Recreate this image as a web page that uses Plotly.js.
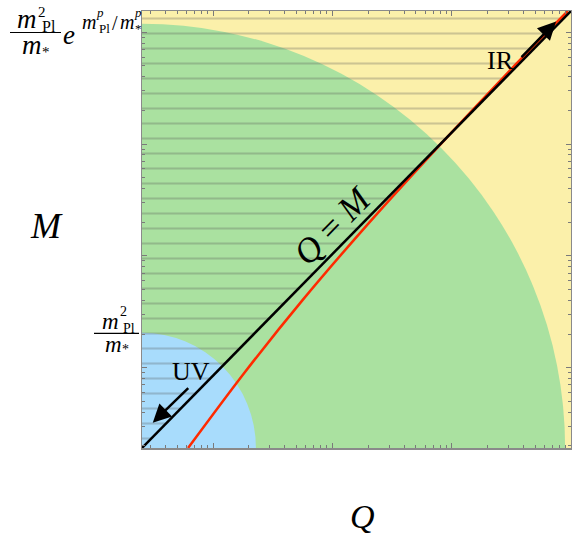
<!DOCTYPE html>
<html>
<head>
<meta charset="utf-8">
<script src="https://cdn.plot.ly/plotly-3.0.1.min.js"></script>
<style>
  html, body { margin: 0; padding: 0; background: #fff; }
  #chart { width: 572px; height: 536px; }
</style>
</head>
<body>
<div id="chart"></div>
<script>
// frame extent, log10 of Q (x) and M (y)
const qRangeLog = [0.405, 4.0]
const mRangeLog = [0.281, 4.191]

// Q = M line, corner to corner
const diagQ = [2.54, 10000]
const diagM = [1.91, 15520]

// red curve
const curveQ = [6.18, 18.0, 56.5, 202.8, 784, 3112, 9390]
const curveM = [1.91, 8.78, 40.4, 197.4, 965, 4624, 15520]

// quarter discs around the lower-left corner (edge on each axis)
const regionNames = ["UV", "bulk"]
const regionEdgeQ = [22.9, 8930]
const regionEdgeM = [20.5, 11940]
const regionColors = ["#a8dcfc", "#aae1a0"]

// axis ticks (no labels)
const qMajor = [10, 100, 1000, 10000]
const mMajor = [10, 100, 1000, 10000]

const lg = Math.log10
const minorTicks = (lo, hi) => {
  const out = []
  for (let d = 1; d <= 1000; d *= 10) {
    for (let k = 2; k <= 9; k++) {
      const v = k * d
      if (v > lo && v < hi) out.push(v)
    }
  }
  return out
}
const qMinor = minorTicks(diagQ[0], diagQ[1])
const mMinor = minorTicks(diagM[0], diagM[1])

// plot box in pixels, to place the free text
const L = 142, T = 11, W = 429, H = 437
const px = (x) => (x - L) / W
const py = (y) => (T + H - y) / H

const serif = "Liberation Serif, Times New Roman, serif"

const traces = [
  {
    // hatched M > Q part
    x: [diagQ[0], diagQ[0], diagQ[1], diagQ[0]],
    y: [diagM[0], diagM[1], diagM[1], diagM[0]],
    mode: "lines",
    line: { width: 0 },
    fill: "toself",
    fillcolor: "rgba(0,0,0,0)",
    fillpattern: { shape: "-", size: 15, solidity: 0.14, fgcolor: "#505050", fgopacity: 0.28, bgcolor: "rgba(0,0,0,0)" },
    hoverinfo: "skip",
  },
  {
    x: curveQ,
    y: curveM,
    mode: "lines",
    line: { color: "#ff2a00", width: 2.5, shape: "spline", smoothing: 0.8 },
  },
  {
    x: diagQ,
    y: diagM,
    mode: "lines",
    line: { color: "#000000", width: 2.5 },
  },
]

// shapes on log axes take data values
const shapes = []
for (let i = regionNames.length - 1; i >= 0; i--) {
  const rq = lg(regionEdgeQ[i]) - qRangeLog[0]
  const rm = lg(regionEdgeM[i]) - mRangeLog[0]
  shapes.push({
    type: "circle", xref: "x", yref: "y", layer: "below",
    x0: Math.pow(10, qRangeLog[0] - rq), x1: regionEdgeQ[i],
    y0: Math.pow(10, mRangeLog[0] - rm), y1: regionEdgeM[i],
    fillcolor: regionColors[i], line: { width: 0 },
  })
}
// fraction bars of the left labels
const fracBar = (x0, x1, y) => ({
  type: "line", xref: "paper", yref: "paper", layer: "above",
  x0: px(x0), x1: px(x1), y0: py(y), y1: py(y),
  line: { color: "#000", width: 1.2 },
})
shapes.push(fracBar(10, 61, 32.5))
shapes.push(fracBar(94, 139, 333.3))

const txt = (text, x, y, size) => ({
  text, x: px(x), y: py(y), xref: "paper", yref: "paper",
  xanchor: "center", yanchor: "middle", showarrow: false,
  font: { family: serif, size, color: "#000" },
})

const annotations = [
  // axis names
  txt("<i>M</i>", 46, 226, 36),
  txt("<i>Q</i>", 362, 516, 34),
  // m_Pl^2/m_* e^{m_Pl^p/m_*^p}
  txt("<i>m</i>", 27, 19, 27),
  txt("2", 42, 12, 15),
  txt("Pl", 49, 27, 16),
  txt("<i>m</i>", 32, 45, 27),
  txt("*", 46, 52, 15),
  txt("<i>e</i>", 69, 35, 27),
  txt("<i>m</i>", 89, 22, 20),
  txt("<i>p</i>", 100, 13, 13),
  txt("Pl", 104, 29, 13),
  txt("/", 115, 23, 20),
  txt("<i>m</i>", 127, 22, 20),
  txt("<i>p</i>", 138, 13, 13),
  txt("*", 138, 29, 13),
  // m_Pl^2/m_*
  txt("<i>m</i>", 110, 321, 23),
  txt("2", 123, 311, 14),
  txt("Pl", 129, 328, 14),
  txt("<i>m</i>", 113, 344, 23),
  txt("*", 125, 349, 14),
  // in-plot text
  {
    text: "<i>Q</i>\u00a0=\u00a0<i>M</i>", x: 2.006, y: 2.268, xref: "x", yref: "y",
    showarrow: false, textangle: -45.5, font: { family: serif, size: 35, color: "#000" },
  },
  { text: "IR", x: 3.406, y: 3.746, xref: "x", yref: "y", showarrow: false, font: { family: serif, size: 26, color: "#000" } },
  { text: "UV", x: 0.818, y: 0.968, xref: "x", yref: "y", showarrow: false, font: { family: serif, size: 26, color: "#000" } },
  // flow arrows
  {
    text: "", x: 3.875, y: 4.097, xref: "x", yref: "y", ax: -36, ay: 37,
    showarrow: true, arrowhead: 2, arrowsize: 1.45, arrowwidth: 2.5, arrowcolor: "#000",
  },
  {
    text: "", x: 0.495, y: 0.508, xref: "x", yref: "y", ax: 37, ay: -36,
    showarrow: true, arrowhead: 2, arrowsize: 1.45, arrowwidth: 2.5, arrowcolor: "#000",
  },
]

const axisStyle = {
  type: "log",
  showgrid: false,
  zeroline: false,
  showline: true,
  linecolor: "#8a8a8a",
  linewidth: 1.5,
  mirror: "allticks",
  ticks: "inside",
  ticklen: 5,
  tickwidth: 1,
  tickcolor: "#7a7a7a",
  showticklabels: false,
  tickmode: "array",
}

const layout = {
  width: 572,
  height: 536,
  margin: { l: L, r: 572 - L - W, t: T, b: 536 - T - H },
  paper_bgcolor: "#ffffff",
  plot_bgcolor: "#fbf0aa",
  showlegend: false,
  xaxis: Object.assign({}, axisStyle, {
    range: qRangeLog,
    tickvals: qMajor,
    minor: { tickmode: "array", tickvals: qMinor, ticks: "inside", ticklen: 3, tickcolor: "#7a7a7a", showgrid: false },
  }),
  yaxis: Object.assign({}, axisStyle, {
    range: mRangeLog,
    tickvals: mMajor,
    minor: { tickmode: "array", tickvals: mMinor, ticks: "inside", ticklen: 3, tickcolor: "#7a7a7a", showgrid: false },
  }),
  shapes,
  annotations,
}

Plotly.newPlot("chart", traces, layout, { displayModeBar: false, staticPlot: true })
</script>
</body>
</html>
